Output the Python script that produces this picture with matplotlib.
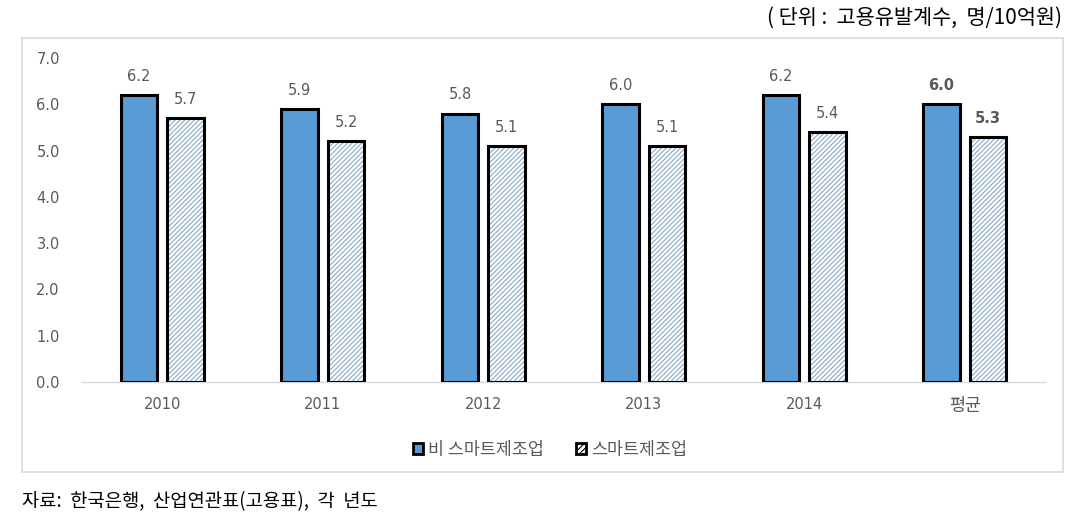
import numpy as np
import matplotlib
matplotlib.use('Agg')
import matplotlib.pyplot as plt
from matplotlib.patches import Rectangle, Patch

plt.rcParams['font.family'] = ['Noto Sans CJK KR', 'DejaVu Sans']
plt.rcParams['hatch.linewidth'] = 0.8

categories = ['2010', '2011', '2012', '2013', '2014', '평균']
non_smart = [6.2, 5.9, 5.8, 6.0, 6.2, 6.0]
smart = [5.7, 5.2, 5.1, 5.1, 5.4, 5.3]
series_names = ['비 스마트제조업', '스마트제조업']
yticks = [0.0, 1.0, 2.0, 3.0, 4.0, 5.0, 6.0, 7.0]

BLUE = '#5b9bd5'
HATCH = '#8aa9c8'
GRAY_TXT = '#595959'

fig = plt.figure(figsize=(10.85, 5.25), dpi=100)
# outer frame around the chart
fig.patches.append(Rectangle((22 / 1085, 1 - 472 / 525), 1041 / 1085, 434 / 525,
                             transform=fig.transFigure, fill=False,
                             edgecolor='#d9d9d9', linewidth=1.2))
ax = fig.add_axes([82 / 1085, 1 - 382 / 525, 963 / 1085, 324 / 525])

x = np.arange(len(categories))
w = 0.23
off = 0.145
ax.bar(x - off, non_smart, w, color=BLUE, edgecolor='black', linewidth=2.2, zorder=3)
ax.bar(x + off, smart, w, color='white', edgecolor=HATCH, hatch='///////', linewidth=0, zorder=3)
ax.bar(x + off, smart, w, color='none', edgecolor='black', linewidth=2.2, zorder=4)

for i in range(len(categories)):
    weight = 'bold' if i == len(categories) - 1 else 'normal'
    ax.annotate(f'{non_smart[i]:.1f}', (x[i] - off, non_smart[i]), xytext=(0, 8),
                textcoords='offset points', ha='center', va='bottom',
                fontsize=10.5, color=GRAY_TXT, fontweight=weight, family=['DejaVu Sans'])
    ax.annotate(f'{smart[i]:.1f}', (x[i] + off, smart[i]), xytext=(0, 8),
                textcoords='offset points', ha='center', va='bottom',
                fontsize=10.5, color=GRAY_TXT, fontweight=weight, family=['DejaVu Sans'])

ax.set_xlim(-0.5, len(categories) - 0.5)
ax.set_ylim(0, 7)
ax.set_yticks(yticks)
ax.set_yticklabels([f'{t:.1f}' for t in yticks], family=['DejaVu Sans'])
ax.set_xticks(x)
ax.set_xticklabels(categories)
ax.tick_params(axis='both', length=0, labelsize=10.5, colors=GRAY_TXT)
ax.tick_params(axis='y', pad=16)
ax.tick_params(axis='x', pad=11)
for lbl in ax.get_xticklabels():
    if lbl.get_text().isdigit():
        lbl.set_fontfamily(['DejaVu Sans'])
    else:
        lbl.set_fontsize(12.5)
for s in ['top', 'right', 'left']:
    ax.spines[s].set_visible(False)
ax.spines['bottom'].set_color('#d9d9d9')
ax.spines['bottom'].set_linewidth(1)

handles = [Patch(facecolor=BLUE, edgecolor='black', linewidth=2),
           Patch(facecolor='white', edgecolor='black', hatch='//////', linewidth=2)]
fig.legend(handles, series_names, loc='center', bbox_to_anchor=(550 / 1085, 1 - 450 / 525),
           ncol=2, frameon=False, fontsize=12.5, handlelength=0.6, handleheight=0.6,
           handletextpad=0.3, columnspacing=1.8, labelcolor=GRAY_TXT)

fig.text(1062 / 1085, 1 - 18 / 525, '( 단위 :  고용유발계수,  명/10억원)', ha='right', va='center',
         fontsize=15, color='black')
fig.text(22 / 1085, 1 - 502 / 525, '자료:  한국은행,  산업연관표(고용표),  각  년도', ha='left', va='center',
         fontsize=13.5, color='black')

fig.savefig('out.png', dpi=100)
